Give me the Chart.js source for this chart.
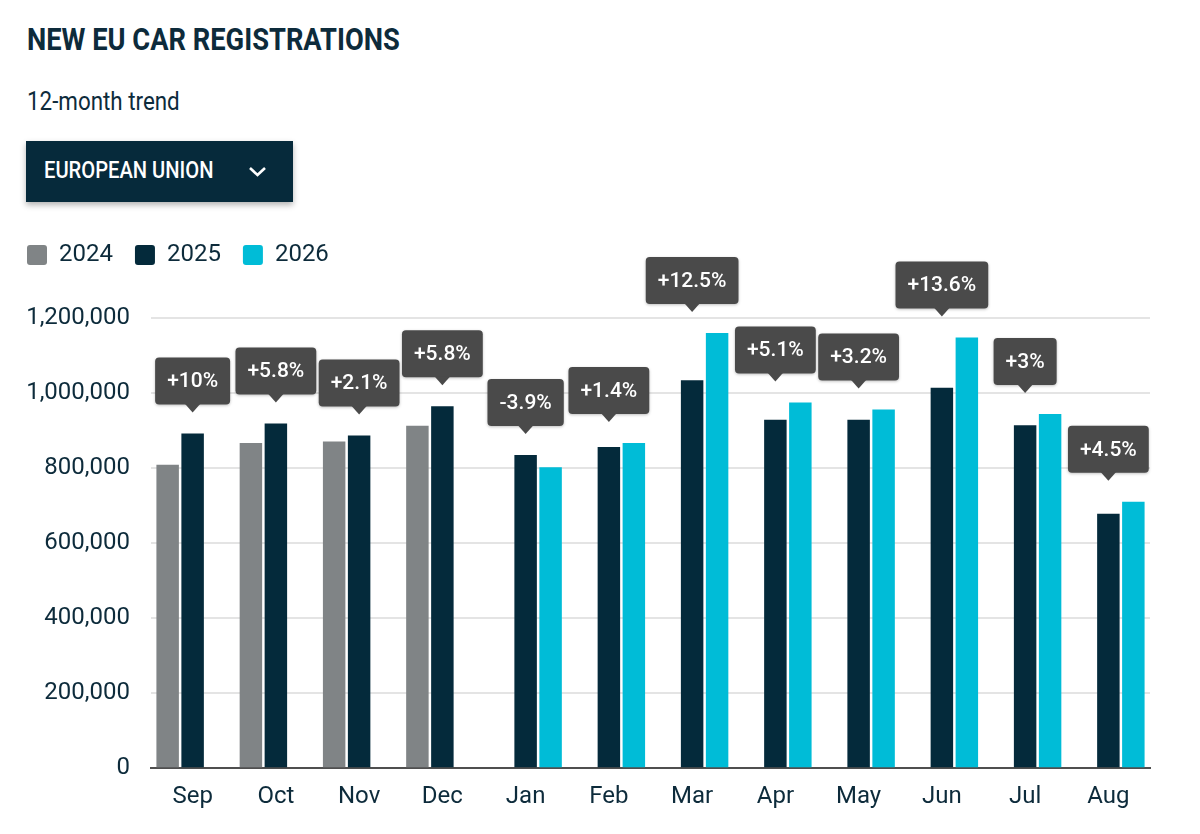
<!DOCTYPE html>
<html>
<head>
<meta charset="utf-8">
<title>New EU car registrations</title>
<script src="https://cdn.jsdelivr.net/npm/chart.js@4.4.1/dist/chart.umd.min.js"></script>
<style>
  body { margin: 0; background: #fff; font-family: Roboto, sans-serif; color: #0d2b3b; }
  .page { position: relative; width: 1200px; height: 834px; overflow: hidden; }
  .title { position: absolute; left: 27px; top: 24px; margin: 0; font-size: 31px; font-weight: 700; line-height: 1;
           transform: scaleX(0.88); transform-origin: left top; white-space: nowrap; }
  .subtitle { position: absolute; left: 27px; top: 88px; font-size: 26px; line-height: 1;
              transform: scaleX(0.86); transform-origin: left top; white-space: nowrap; }
  .picker { position: absolute; left: 26px; top: 141px; width: 267px; height: 61px; background: #062a3b;
            box-shadow: 0 3px 6px rgba(0,0,0,0.3); }
  .picker span { position: absolute; left: 18px; top: 17px; font-size: 24px; font-weight: 500; color: #fff; line-height: 1;
                 transform: scaleX(0.84); transform-origin: left top; white-space: nowrap; }
  .picker svg { position: absolute; left: 222px; top: 24px; }
  #wrap { position: absolute; left: 0; top: 221px; width: 1200px; height: 613px; }
</style>
</head>
<body>
<div class="page">
  <h1 class="title">NEW EU CAR REGISTRATIONS</h1>
  <div class="subtitle">12-month trend</div>
  <div class="picker">
    <span>EUROPEAN UNION</span>
    <svg width="20" height="14" viewBox="0 0 20 14"><polyline points="2,3 9.5,10 17,3" fill="none" stroke="#fff" stroke-width="2.6"/></svg>
  </div>
  <div id="wrap"><canvas id="chart"></canvas></div>
</div>
<script>
const months = ['Sep', 'Oct', 'Nov', 'Dec', 'Jan', 'Feb', 'Mar', 'Apr', 'May', 'Jun', 'Jul', 'Aug']

// registrations per month, null where that year has no bar
const values2024 = [809000, 867000, 871000, 913000, null, null, null, null, null, null, null, null]
const values2025 = [892000, 919000, 887000, 965000, 835000, 856000, 1034000, 929000, 929000, 1014000, 914000, 678000]
const values2026 = [null, null, null, null, 802000, 867000, 1160000, 975000, 956000, 1148000, 944000, 710000]

const changeLabels = ['+10%', '+5.8%', '+2.1%', '+5.8%', '-3.9%', '+1.4%', '+12.5%', '+5.1%', '+3.2%', '+13.6%', '+3%', '+4.5%']

const yTicks = [0, 200000, 400000, 600000, 800000, 1000000, 1200000]

const gray = '#808486'
const navy = '#042a3b'
const cyan = '#00bcd7'
const textColor = '#0d2b3b'

// extra room under the legend
const legendMargin = {
    id: 'legendMargin',
    beforeInit(chart) {
        const fit = chart.legend.fit;
        chart.legend.fit = function () {
            fit.bind(chart.legend)();
            this.height += 41;
        };
    }
};

// grey change boxes above each month
const callouts = {
    id: 'callouts',
    afterDatasetsDraw(chart) {
        const ctx = chart.ctx;
        const xScale = chart.scales.x;
        ctx.save();
        ctx.font = '500 21px Roboto';
        changeLabels.forEach((label, i) => {
            let top = Infinity;
            chart.data.datasets.forEach((ds, d) => {
                const bar = chart.getDatasetMeta(d).data[i];
                if (ds.data[i] != null && bar) top = Math.min(top, bar.y);
            });
            const x = xScale.getPixelForValue(i);
            const tip = top - 21;
            const h = 47;
            const w = ctx.measureText(label).width + 24;
            const bottom = tip - 8;
            ctx.fillStyle = '#4a4a4a';
            ctx.shadowColor = 'rgba(0,0,0,0.25)';
            ctx.shadowBlur = 3;
            ctx.shadowOffsetY = 1;
            ctx.beginPath();
            ctx.roundRect(x - w / 2, bottom - h, w, h, 4);
            ctx.fill();
            ctx.shadowColor = 'transparent';
            ctx.beginPath();
            ctx.moveTo(x - 8, bottom - 1);
            ctx.lineTo(x + 8, bottom - 1);
            ctx.lineTo(x, tip);
            ctx.closePath();
            ctx.fill();
            ctx.fillStyle = '#fff';
            ctx.textAlign = 'center';
            ctx.textBaseline = 'middle';
            ctx.fillText(label, x, bottom - h / 2 + 1);
        });
        ctx.restore();
    }
};

const ctx = document.getElementById('chart');

const mychart = new Chart(ctx, {
    type: 'bar',
    data: {
        labels: months,
        datasets: [
            { label: '2024', data: values2024, backgroundColor: gray },
            { label: '2025', data: values2025, backgroundColor: navy },
            { label: '2026', data: values2026, backgroundColor: cyan }
        ]
    },
    options: {
        responsive: true,
        maintainAspectRatio: false,
        animation: false,
        datasets: {
            bar: { categoryPercentage: 0.9, barPercentage: 0.9, borderWidth: 0 }
        },
        layout: { padding: { left: 5, right: 50, top: 0, bottom: 9 } },
        plugins: {
            legend: {
                position: 'top',
                align: 'start',
                labels: {
                    font: { family: 'Roboto', size: 24 },
                    color: textColor,
                    boxWidth: 20,
                    boxHeight: 20,
                    useBorderRadius: true,
                    borderRadius: 3,
                    padding: 22
                }
            },
            tooltip: { enabled: false }
        },
        scales: {
            x: {
                grid: { display: false, drawTicks: false },
                border: { display: true, color: '#4f4f4f', width: 2 },
                ticks: { font: { family: 'Roboto', size: 24 }, color: textColor, padding: 14 }
            },
            y: {
                min: 0,
                max: 1200000,
                afterBuildTicks: (scale) => { scale.ticks = yTicks.map(v => ({ value: v })); },
                afterFit: (scale) => { scale.width = 146; },
                grid: {
                    color: (c) => c.tick && c.tick.value === 0 ? 'rgba(0,0,0,0)' : '#e4e4e4',
                    lineWidth: 2,
                    drawTicks: false
                },
                border: { display: false },
                ticks: {
                    font: { family: 'Roboto', size: 24 },
                    color: textColor,
                    padding: 21,
                    callback: (v) => v.toLocaleString('en-US')
                }
            }
        }
    },
    plugins: [legendMargin, callouts]
});
</script>
</body>
</html>
